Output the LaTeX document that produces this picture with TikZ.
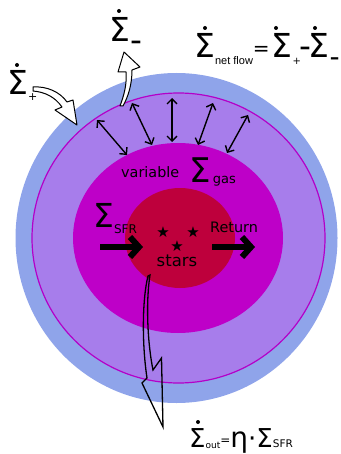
\documentclass[tikz,border=0pt]{standalone}
\usepackage{fontspec}
\setmainfont{DejaVu Sans}
\newfontfamily\narrowfont{Liberation Sans}
\usepackage{xcolor}
\usetikzlibrary{arrows.meta}
\definecolor{haloblue}{HTML}{8FA4EA}
\definecolor{gasviolet}{HTML}{A77DEB}
\definecolor{diskmag}{HTML}{BE00C8}
\definecolor{rimmag}{HTML}{B400C8}
\definecolor{starred}{HTML}{BE003C}
\newcommand{\fsz}[1]{\fontsize{#1}{#1}\selectfont}

\begin{document}
\begin{tikzpicture}[x=1pt,y=-1pt,
  every node/.style={inner sep=0pt,anchor=base west},
  bigsig/.style={font=\fsz{33}},
  lbl/.style={font=\fsz{14.4}},
  flow/.style={{Straight Barb[length=5pt,width=10pt]}-{Straight Barb[length=5pt,width=10pt]},line width=1.4pt},
  fat/.style={-{Straight Barb[length=9pt,width=20pt]},line width=6pt,line join=round},
  hollow/.style={draw=black,line width=1pt,fill=white,line join=round},
  bolt/.style={draw=black,line width=1.3pt,line join=miter}]
\useasboundingbox (0,0) rectangle (340,454);

% nested layers
\fill[haloblue] (176.5,238) ellipse [x radius=161pt,y radius=165pt];
\filldraw[fill=gasviolet,draw=rimmag,line width=1.2pt] (178.5,238) ellipse [x radius=146.5pt,y radius=145pt];
\fill[diskmag] (178,238) ellipse [x radius=105pt,y radius=95pt];
\fill[starred] (180,238) ellipse [x radius=55pt,y radius=50pt];

% exchange between gas reservoir and halo
\foreach \n/\ox/\oy/\ix/\iy in {1/97/120/127/155,2/132/103/152/145,3/172/98/172/142,4/213/103/198/145,5/248/115/227/153}{
  \coordinate (out\n) at (\ox,\oy);
  \coordinate (in\n) at (\ix,\iy);
  \draw[flow] (out\n) -- (in\n);
}

% star formation and return
\coordinate (sfrtail) at (100,247);
\coordinate (sfrhead) at (143,247);
\coordinate (rettail) at (212,247);
\coordinate (rethead) at (255,247);
\draw[fat] (sfrtail) -- (sfrhead);
\draw[fat] (rettail) -- (rethead);

% inflow and outflow arrows
\draw[hollow] (33,87) .. controls (47,86) and (60,92) .. (67,102) -- (73,100) -- (77,125) -- (55,110) -- (62,107) .. controls (55,97) and (45,92) .. (33,91) -- cycle;
\draw[hollow] (120,106) .. controls (124,95) and (127,85) .. (126,72) -- (118,72) -- (124,52) -- (140,67) -- (132,70) .. controls (132,85) and (128,97) .. (123,106) -- cycle;
\draw[bolt] (150,275) .. controls (146,300) and (147,340) .. (153,370) -- (161.5,358) -- (163,427) -- (142,383) -- (147,378) .. controls (142,345) and (142,300) .. (148,276) -- cycle;

% labels
\node[bigsig] (sigminus) at (109,42) {Σ\raisebox{-10pt}{-}};
\node[bigsig] (sigplus) at (7,95) {Σ\raisebox{-6pt}{\fsz{11}+}};
\node[bigsig] (netflow) at (194,58) {Σ\raisebox{-7pt}{\narrowfont\fsz{11}net flow}\raisebox{2pt}{\fsz{20}=}\kern2pt Σ\raisebox{-7pt}{\fsz{10}+}\kern-1pt-\kern-3pt Σ\raisebox{-9pt}{\fsz{28}-}};
\node[lbl] (gaslbl) at (121,178) {variable\hspace{10pt}\raisebox{-5pt}{\fsz{34}Σ}\kern2pt\raisebox{-6pt}{\fsz{13}gas}};
\node[bigsig] (sfrlbl) at (93,227) {Σ\raisebox{-6pt}{\fsz{12}SFR}};
\node[lbl] (retlbl) at (210,232) {Return};
\node[font=\fsz{15},anchor=center] (star1) at (163,232) {★};
\node[font=\fsz{15},anchor=center] (star2) at (193,232) {★};
\node[font=\fsz{15},anchor=center] (star3) at (177,246) {★};
\node[font=\fsz{16.5},anchor=base] (starlbl) at (177,266) {stars};
\node[font=\fsz{26}] (outflow) at (189,447) {Σ\raisebox{-1pt}{\fsz{9}out}\raisebox{3pt}{\fsz{12}=}{\fsz{28}η}\textperiodcentered Σ{\fsz{10.5}SFR}};

% time-derivative dots
\foreach \dx/\dy in {119/11,17/65,205/28,276/28,315/28,198/422}
  \fill (\dx,\dy) circle (2pt);
\end{tikzpicture}
\end{document}
